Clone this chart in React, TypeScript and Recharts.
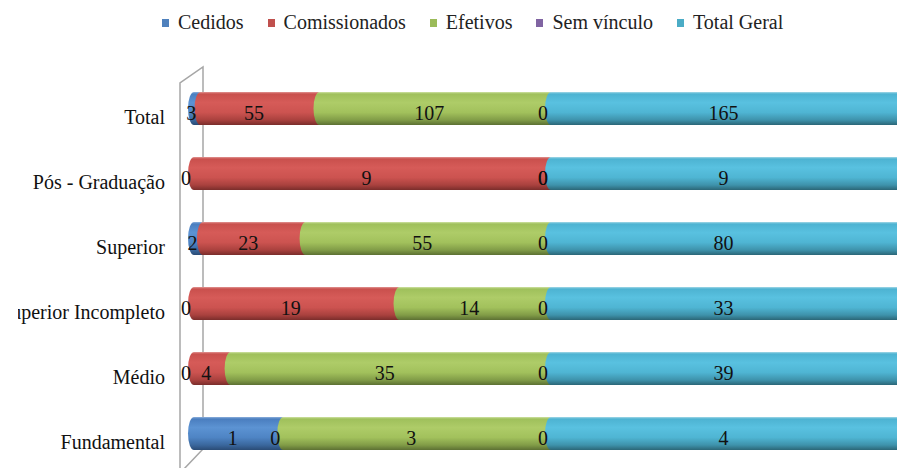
import { BarChart, Bar, XAxis, YAxis, LabelList } from 'recharts'

const categories = ['Total', 'Pós - Graduação', 'Superior', 'Superior Incompleto', 'Médio', 'Fundamental']
const cedidos = [3, 0, 2, 0, 0, 1]
const comissionados = [55, 9, 23, 19, 4, 0]
const efetivos = [107, 0, 55, 14, 35, 3]
const semVinculo = [0, 0, 0, 0, 0, 0]
const totalGeral = [165, 9, 80, 33, 39, 4]

const data = categories.map((name, i) => ({
  name,
  cedidos: cedidos[i],
  comissionados: comissionados[i],
  efetivos: efetivos[i],
  semVinculo: semVinculo[i],
  totalGeral: totalGeral[i],
}))

const series = [
  { key: 'cedidos', label: 'Cedidos', color: '#4F81BD', grad: 'gBlue' },
  { key: 'comissionados', label: 'Comissionados', color: '#C0504D', grad: 'gRed' },
  { key: 'efetivos', label: 'Efetivos', color: '#9BBB59', grad: 'gGreen' },
  { key: 'semVinculo', label: 'Sem vínculo', color: '#8064A2', grad: 'gPurple' },
  { key: 'totalGeral', label: 'Total Geral', color: '#4BACC6', grad: 'gCyan' },
]

const gradients: Record<string, string[]> = {
  gBlue:   ['#8DB0DC', '#4A7EBF', '#5C93D3', '#4E84C4', '#3A679D', '#2A4B75'],
  gRed:    ['#E19593', '#C9504D', '#D65B58', '#CC5350', '#A9413E', '#7A2D2B'],
  gGreen:  ['#CFE2A4', '#9FC05B', '#AECC68', '#A2C15C', '#819C47', '#5C7033'],
  gPurple: ['#B5A3CC', '#7D61A0', '#8C70B0', '#7F63A3', '#654D85', '#48375F'],
  gCyan:   ['#A4D8E7', '#4DB3D2', '#59C1E0', '#4FB5D3', '#3E92AB', '#2B6677'],
}
const stops = [0, 0.06, 0.32, 0.62, 0.85, 1]

const FONT = '"Liberation Serif", "Times New Roman", serif'
const W = 910
const H = 468
const PLOT_LEFT = 188
const PLOT_TOP = 76
const CAP = 6

function Cylinder(props: any) {
  const { x, y, width, height, fill } = props
  if (!width || width <= 0.5) return null
  const r = height / 2
  const d = `M${x + CAP},${y} H${x + width + CAP} V${y + height} H${x + CAP} A${CAP},${r} 0 0 1 ${x + CAP},${y} Z`
  return <path d={d} fill={fill} />
}

function CategoryTick(props: any) {
  const { y, payload } = props
  return (
    <text x={165} y={y + 15} textAnchor="end" fontFamily={FONT} fontSize={20} fill="#111" clipPath="url(#leftClip)">
      {payload.value}
    </text>
  )
}

function ValueLabel(props: any) {
  const { x, y, width, height, value } = props
  return (
    <text x={x + width / 2 - (width === 0 ? 2 : 0)} y={y + height / 2 + 11.5} textAnchor="middle" fontFamily={FONT} fontSize={20} fill="#111">
      {value}
    </text>
  )
}

export default function App() {
  const wallL = PLOT_LEFT - 8
  const wallR = PLOT_LEFT + 15
  return (
    <div style={{ position: 'absolute', left: 0, top: 0, width: 897, height: 468, overflow: 'hidden', background: '#fff' }}>
      <svg width={W} height={H} style={{ position: 'absolute', left: 0, top: 0 }}>
        <polyline
          points={`${wallL},${H + 2} ${wallL},83 ${wallR},67 ${wallR},449 ${wallR - 20},${H + 2}`}
          fill="none"
          stroke="#A6A6A6"
          strokeWidth={1.5}
        />
      </svg>
      <div style={{ position: 'absolute', left: 0, top: 0 }}>
        <BarChart
          width={W}
          height={H}
          data={data}
          layout="vertical"
          stackOffset="expand"
          margin={{ top: PLOT_TOP, right: 8, bottom: 2, left: 0 }}
          barSize={33}
        >
          <defs>
            <clipPath id="leftClip">
              <rect x={18} y={0} width={2000} height={1000} />
            </clipPath>
            {Object.entries(gradients).map(([id, cols]) => (
              <linearGradient key={id} id={id} x1="0" y1="0" x2="0" y2="1">
                {cols.map((c, i) => (
                  <stop key={i} offset={`${stops[i] * 100}%`} stopColor={c} />
                ))}
              </linearGradient>
            ))}
          </defs>
          <XAxis type="number" hide domain={[0, 1]} />
          <YAxis
            type="category"
            dataKey="name"
            width={PLOT_LEFT}
            axisLine={false}
            tickLine={false}
            tick={<CategoryTick />}
          />
          {series.map(s => (
            <Bar
              key={s.key}
              dataKey={s.key}
              stackId="a"
              fill={`url(#${s.grad})`}
              shape={<Cylinder />}
              isAnimationActive={false}
            >
              <LabelList dataKey={s.key} content={<ValueLabel />} />
            </Bar>
          ))}
        </BarChart>
      </div>
      <div
        style={{
          position: 'absolute',
          top: 11,
          left: 162,
          display: 'flex',
          gap: 24,
          fontFamily: FONT,
          fontSize: 20,
          color: '#222',
          whiteSpace: 'nowrap',
        }}
      >
        {series.map(s => (
          <div key={s.key} style={{ display: 'flex', alignItems: 'center' }}>
            <span style={{ display: 'inline-block', width: 7, height: 8, background: s.color, marginRight: 9, marginTop: 1 }} />
            <span>{s.label}</span>
          </div>
        ))}
      </div>
    </div>
  )
}
